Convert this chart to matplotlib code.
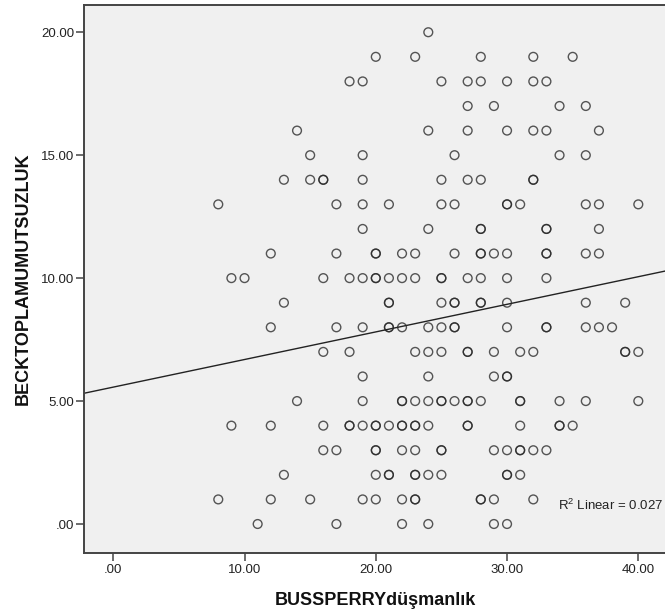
import numpy as np
import matplotlib
matplotlib.use("Agg")
import matplotlib.pyplot as plt

plt.rcParams['font.family'] = ['Liberation Sans', 'DejaVu Sans']
plt.rcParams['mathtext.fontset'] = 'custom'
plt.rcParams['mathtext.rm'] = 'Liberation Sans'
plt.rcParams['mathtext.it'] = 'Liberation Sans'

# BECKTOPLAMUMUTSUZLUK level -> BUSSPERRYdüşmanlık values observed at that level
beck_levels = [20, 19, 18, 17, 16, 15, 14, 13, 12, 11, 10, 9, 8, 7, 6, 5, 4, 3, 2, 1, 0]
row_20 = [24]
row_19 = [20, 23, 28, 32, 35]
row_18 = [18, 19, 25, 27, 28, 30, 32, 33]
row_17 = [27, 29, 34, 36]
row_16 = [14, 24, 27, 30, 32, 33, 37]
row_15 = [15, 19, 26, 34, 36]
row_14 = [13, 15, 16, 16, 19, 25, 27, 28, 32, 32]
row_13 = [8, 17, 19, 21, 25, 26, 30, 30, 31, 36, 37, 40]
row_12 = [19, 24, 28, 28, 33, 33, 37]
row_11 = [12, 17, 20, 20, 22, 23, 26, 28, 28, 29, 30, 33, 33, 36, 37]
row_10 = [9, 10, 16, 18, 19, 20, 20, 21, 22, 23, 25, 25, 27, 28, 30, 33]
row_9 = [13, 21, 21, 25, 26, 26, 28, 28, 30, 36, 39]
row_8 = [12, 17, 19, 21, 21, 22, 24, 25, 26, 26, 30, 33, 33, 36, 37, 38]
row_7 = [16, 18, 23, 24, 25, 27, 27, 29, 31, 32, 39, 39, 40]
row_6 = [19, 24, 29, 30, 30]
row_5 = [14, 19, 22, 22, 23, 24, 25, 25, 26, 27, 27, 28, 31, 31, 34, 36, 40]
row_4 = [9, 12, 16, 18, 18, 19, 20, 20, 21, 22, 22, 23, 23, 24, 27, 27, 31, 34, 34, 35]
row_3 = [16, 17, 20, 20, 22, 23, 25, 25, 29, 30, 31, 31, 32, 33]
row_2 = [13, 20, 21, 21, 23, 23, 24, 25, 30, 30, 31]
row_1 = [8, 12, 15, 19, 20, 22, 23, 23, 28, 28, 29, 32]
row_0 = [11, 17, 22, 24, 29, 30]
rows = [row_20, row_19, row_18, row_17, row_16, row_15, row_14, row_13, row_12,
        row_11, row_10, row_9, row_8, row_7, row_6, row_5, row_4, row_3, row_2,
        row_1, row_0]

x_ticks = [0, 10, 20, 30, 40]
x_ticklabels = ['.00', '10.00', '20.00', '30.00', '40.00']
y_ticks = [0, 5, 10, 15, 20]
y_ticklabels = ['.00', '5.00', '10.00', '15.00', '20.00']
r_squared = 0.027

xs = np.array([x for lvl, r in zip(beck_levels, rows) for x in r], dtype=float)
ys = np.array([lvl for lvl, r in zip(beck_levels, rows) for x in r], dtype=float)

W, H = 665, 616
fig = plt.figure(figsize=(W / 100, H / 100), dpi=100)
fig.patch.set_facecolor('white')
left, right, top, bottom = 84, 666, 4.7, 552.6
ax = fig.add_axes([left / W, (H - bottom) / H, (right - left) / W, (bottom - top) / H])
ax.set_facecolor('#f0f0f0')

xlim = (-2.23, 42.11)
ax.set_xlim(*xlim)
ax.set_ylim(-1.163, 21.12)

ax.scatter(xs, ys, s=40, facecolors='none', edgecolors='#282828', linewidths=1.0,
           alpha=0.78, zorder=3)

slope, intercept = np.polyfit(xs, ys, 1)
xl = np.array(xlim)
ax.plot(xl, intercept + slope * xl, color='#222222', lw=1.0, zorder=2)

ax.set_xticks(x_ticks)
ax.set_xticklabels(x_ticklabels)
ax.set_yticks(y_ticks)
ax.set_yticklabels(y_ticklabels)
ax.tick_params(axis='both', direction='out', length=5.5, width=1.1, color='#444444',
               labelsize=9.5, labelcolor='#222222')
ax.tick_params(axis='y', pad=1.5)
ax.tick_params(axis='x', pad=3)
for s in ['left', 'bottom', 'top', 'right']:
    ax.spines[s].set_color('#444444')
    ax.spines[s].set_linewidth(1.4)

ax.set_xlabel('BUSSPERRYdüşmanlık', fontsize=13, fontweight='bold', color='#111111',
              labelpad=11)
ax.set_ylabel('BECKTOPLAMUMUTSUZLUK', fontsize=13, fontweight='bold', color='#111111',
              labelpad=7)

ax.text(33.85, 0.77, r'R$^2$ Linear = ' + f'{r_squared:.3f}', fontsize=9.5,
        color='#222222', va='center', ha='left', zorder=4)

fig.savefig('out.png', dpi=100, facecolor='white')
